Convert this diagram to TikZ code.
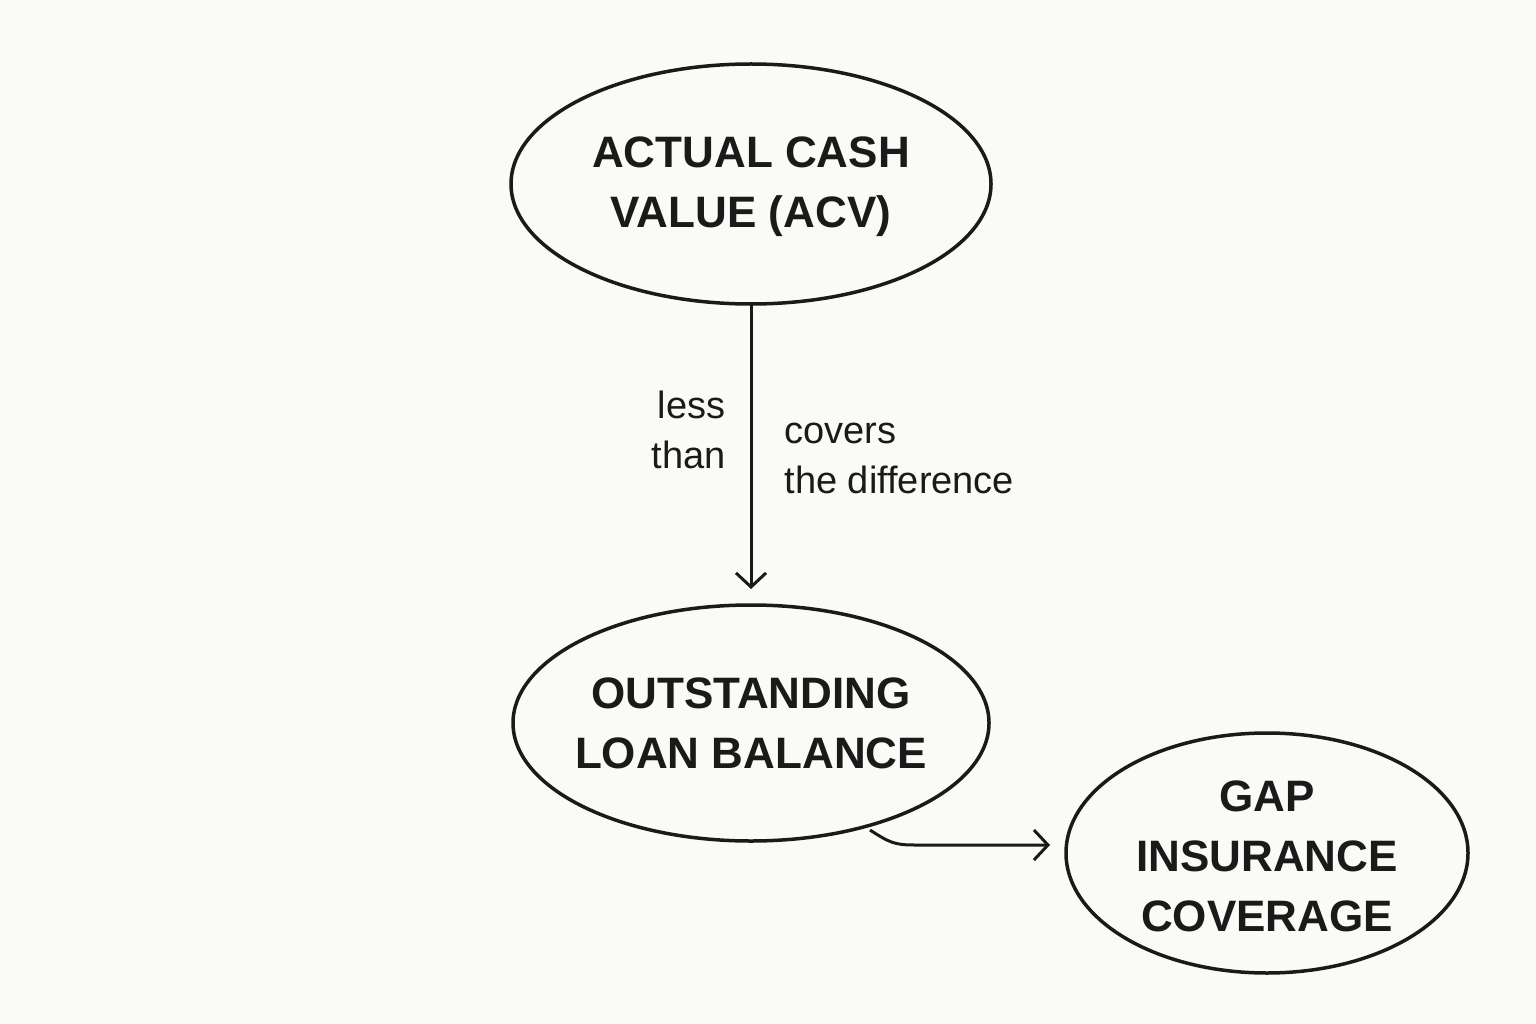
\documentclass[tikz,border=0pt]{standalone}
\usepackage{fontspec}
\setmainfont{Liberation Sans}
\usetikzlibrary{arrows.meta}
\definecolor{bg}{HTML}{FAFAF7}
\definecolor{ink}{HTML}{1A1A1A}
\begin{document}
\begin{tikzpicture}[x=1pt,y=-1pt,
  oval/.style={draw=ink,line width=3.5pt},
  title/.style={font=\bfseries\fontsize{44}{60}\selectfont,align=center,text=ink},
  lbl/.style={font=\fontsize{38}{50}\selectfont,text=ink},
  conn/.style={draw=ink,line width=3pt,-{Straight Barb[length=14pt,width=30pt,line width=3pt]}}]
\fill[bg] (0,0) rectangle (1536,1024);
\useasboundingbox (0,0) rectangle (1536,1024);
\draw[oval] (751,184) ellipse [x radius=240,y radius=120];
\draw[oval] (751,723) ellipse [x radius=238,y radius=118];
\draw[oval] (1267,853) ellipse [x radius=201,y radius=120];
\node[title] (a) at (751,187) {ACTUAL CASH\\VALUE (ACV)};
\node[title] (b) at (751,723) {OUTSTANDING\\LOAN BALANCE};
\node[title] (c) at (1267,856) {GAP\\INSURANCE\\COVERAGE};
\coordinate (a1) at (751,305);
\coordinate (b1) at (751,589);
\coordinate (b2) at (870,830);
\coordinate (c1) at (1050,845);
\draw[conn] (a1) -- (b1);
\draw[conn] (b2) .. controls (890,843) and (895,845) .. (915,845) -- (c1);
\node[lbl,align=right,anchor=east] (l1) at (729,430) {less\\than};
\node[lbl,align=left,anchor=west] (l2) at (781,458) {covers\\the difference};
\end{tikzpicture}
\end{document}
